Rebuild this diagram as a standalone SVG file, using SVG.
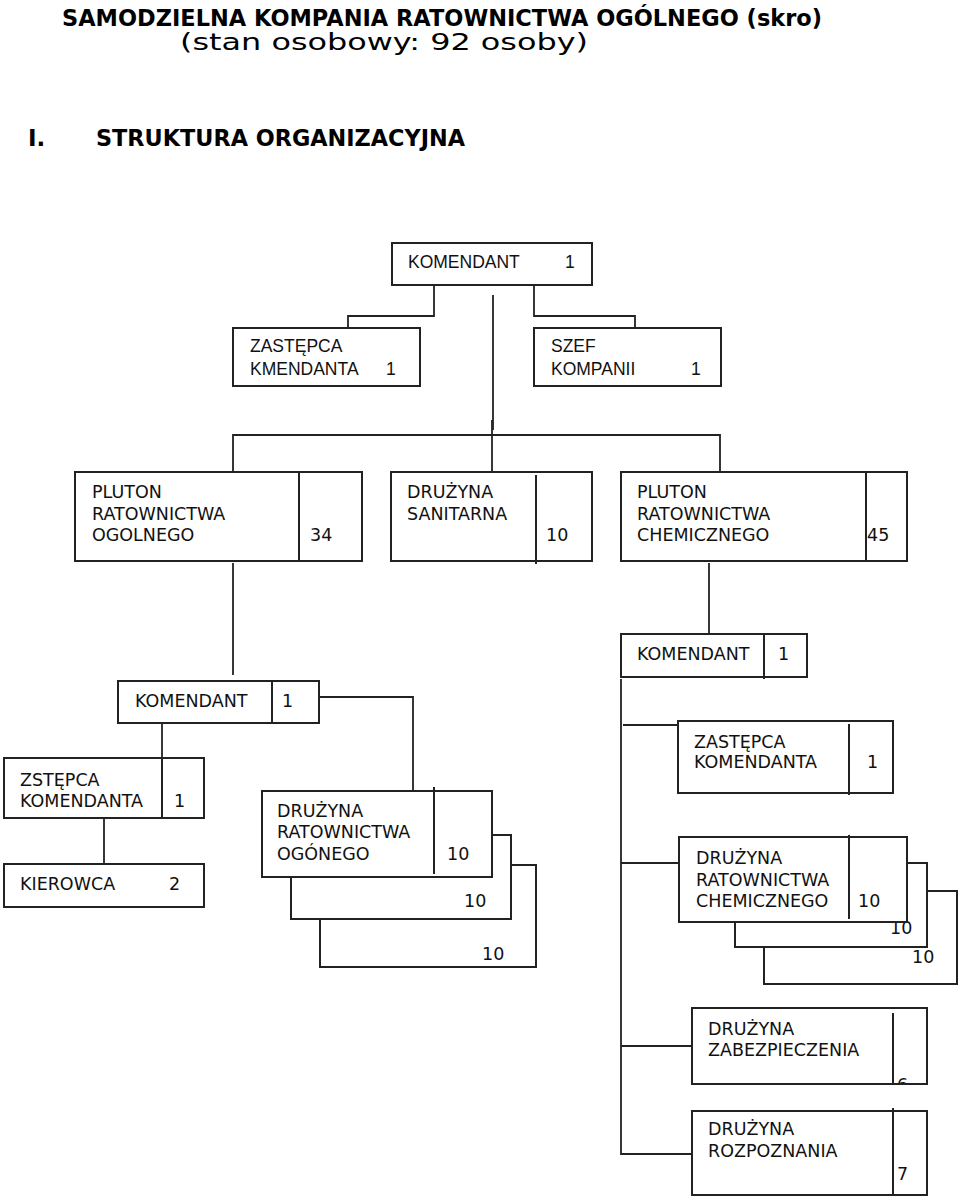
<svg xmlns="http://www.w3.org/2000/svg" width="960" height="1197" viewBox="0 0 960 1197">
<style>
.bx{fill:#fff;stroke:#222;stroke-width:2}
.dv{stroke:#222;stroke-width:2;fill:none}
.cn{stroke:#222;stroke-width:1.8;fill:none}
.a{font-family:"Liberation Sans",Arial,sans-serif;font-size:17.5px;fill:#111}
.v{font-family:"DejaVu Sans",Verdana,sans-serif;font-size:17.5px;fill:#111}
.t{font-family:"DejaVu Sans",Verdana,sans-serif;font-size:23px;fill:#000}
</style>
<defs>
<clipPath id="c6"><rect x="893" y="1060" width="33" height="23"/></clipPath>
</defs>
<rect width="960" height="1197" fill="#fff"/>
<g id="title">
<text class="t" x="62" y="26" font-weight="bold" textLength="760" lengthAdjust="spacingAndGlyphs">SAMODZIELNA KOMPANIA RATOWNICTWA OGÓLNEGO (skro)</text>
<text class="t" x="180" y="50" font-size="24" textLength="408" lengthAdjust="spacingAndGlyphs">(stan osobowy:  92 osoby)</text>
<text class="t" x="28" y="146" font-weight="bold">I.</text>
<text class="t" x="96" y="146" font-weight="bold" textLength="369" lengthAdjust="spacingAndGlyphs">STRUKTURA ORGANIZACYJNA</text>
</g>
<g id="connectors">
<polyline class="cn" points="434,285 434,316 348,316 348,328"/>
<polyline class="cn" points="534,285 534,316 635,316 635,328"/>
<line class="cn" x1="493" y1="295" x2="493" y2="430"/>
<polyline class="cn" points="233,472 233,435 720,435 720,472"/>
<line class="cn" x1="492" y1="420" x2="492" y2="472"/>
<line class="cn" x1="233" y1="563" x2="233" y2="675"/>
<line class="cn" x1="709" y1="563" x2="709" y2="634"/>
<line class="cn" x1="162" y1="723" x2="162" y2="758"/>
<line class="cn" x1="104" y1="818" x2="104" y2="864"/>
<polyline class="cn" points="319,697 413,697 413,790"/>
<polyline class="cn" points="621,679 621,1154 692,1154"/>
<line class="cn" x1="623" y1="725" x2="679" y2="725"/>
<line class="cn" x1="621" y1="863" x2="679" y2="863"/>
<line class="cn" x1="621" y1="1046" x2="692" y2="1046"/>
</g>
<g id="komendant-top">
<rect class="bx" x="392" y="243" width="200" height="42"/>
<text class="a" x="408" y="268">KOMENDANT</text>
<text class="a" x="565" y="268">1</text>
</g>
<g id="zastepca-kmendanta">
<rect class="bx" x="233" y="328" width="187" height="58"/>
<text class="a" x="250" y="352">ZASTĘPCA</text>
<text class="a" x="250" y="375">KMENDANTA</text>
<text class="a" x="386" y="375">1</text>
</g>
<g id="szef-kompanii">
<rect class="bx" x="534" y="328" width="187" height="58"/>
<text class="a" x="551" y="352">SZEF</text>
<text class="a" x="551" y="375">KOMPANII</text>
<text class="a" x="691" y="375">1</text>
</g>
<g id="pluton-ogolnego">
<rect class="bx" x="75" y="472" width="287" height="89"/>
<line class="dv" x1="299" y1="472" x2="299" y2="561"/>
<text class="v" x="92" y="498">PLUTON</text>
<text class="v" x="92" y="520">RATOWNICTWA</text>
<text class="v" x="92" y="541">OGOLNEGO</text>
<text class="v" x="310" y="541">34</text>
</g>
<g id="druzyna-sanitarna">
<rect class="bx" x="391" y="472" width="201" height="89"/>
<line class="dv" x1="536" y1="475" x2="536" y2="564"/>
<text class="v" x="407" y="498">DRUŻYNA</text>
<text class="v" x="407" y="520">SANITARNA</text>
<text class="v" x="546" y="541">10</text>
</g>
<g id="pluton-chemicznego">
<rect class="bx" x="621" y="472" width="286" height="89"/>
<line class="dv" x1="866" y1="472" x2="866" y2="561"/>
<text class="v" x="637" y="498">PLUTON</text>
<text class="v" x="637" y="520">RATOWNICTWA</text>
<text class="v" x="637" y="541">CHEMICZNEGO</text>
<text class="v" x="867" y="541">45</text>
</g>
<g id="komendant-left">
<rect class="bx" x="118" y="681" width="201" height="42"/>
<line class="dv" x1="272" y1="681" x2="272" y2="723"/>
<text class="v" x="135" y="707">KOMENDANT</text>
<text class="v" x="282" y="707">1</text>
</g>
<g id="zstepca-komendanta">
<rect class="bx" x="4" y="758" width="200" height="60"/>
<line class="dv" x1="162" y1="758" x2="162" y2="818"/>
<text class="v" x="20" y="786">ZSTĘPCA</text>
<text class="v" x="20" y="807">KOMENDANTA</text>
<text class="v" x="174" y="807">1</text>
</g>
<g id="kierowca">
<rect class="bx" x="4" y="864" width="200" height="43"/>
<text class="v" x="20" y="890">KIEROWCA</text>
<text class="v" x="169" y="890">2</text>
</g>
<g id="druzyna-ogolnego">
<rect class="bx" x="320" y="865" width="216" height="102"/>
<text class="v" x="482" y="960">10</text>
<rect class="bx" x="291" y="835" width="220" height="84"/>
<text class="v" x="464" y="907">10</text>
<rect class="bx" x="262" y="791" width="230" height="86"/>
<line class="dv" x1="434" y1="787" x2="434" y2="874"/>
<text class="v" x="277" y="817">DRUŻYNA</text>
<text class="v" x="277" y="838">RATOWNICTWA</text>
<text class="v" x="277" y="860">OGÓNEGO</text>
<text class="v" x="447" y="860">10</text>
</g>
<g id="komendant-right">
<rect class="bx" x="621" y="634" width="186" height="43"/>
<line class="dv" x1="764" y1="634" x2="764" y2="679"/>
<text class="v" x="637" y="660">KOMENDANT</text>
<text class="v" x="778" y="660">1</text>
</g>
<g id="zastepca-komendanta-right">
<rect class="bx" x="678" y="721" width="215" height="72"/>
<line class="dv" x1="849" y1="724" x2="849" y2="795"/>
<text class="v" x="694" y="748">ZASTĘPCA</text>
<text class="v" x="694" y="768">KOMENDANTA</text>
<text class="v" x="867" y="768">1</text>
</g>
<g id="druzyna-chemicznego">
<rect class="bx" x="764" y="891" width="193" height="93"/>
<text class="v" x="912" y="963">10</text>
<rect class="bx" x="735" y="863" width="192" height="84"/>
<text class="v" x="890" y="934">10</text>
<rect class="bx" x="679" y="837" width="228" height="85"/>
<line class="dv" x1="849" y1="835" x2="849" y2="919"/>
<text class="v" x="696" y="864">DRUŻYNA</text>
<text class="v" x="696" y="886">RATOWNICTWA</text>
<text class="v" x="696" y="907">CHEMICZNEGO</text>
<text class="v" x="858" y="907">10</text>
</g>
<g id="druzyna-zabezpieczenia">
<rect class="bx" x="692" y="1008" width="235" height="76"/>
<line class="dv" x1="893" y1="1013" x2="893" y2="1084"/>
<text class="v" x="708" y="1035">DRUŻYNA</text>
<text class="v" x="708" y="1056">ZABEZPIECZENIA</text>
<text class="v" x="897" y="1091" clip-path="url(#c6)">6</text>
</g>
<g id="druzyna-rozpoznania">
<rect class="bx" x="692" y="1111" width="235" height="84"/>
<line class="dv" x1="893" y1="1108" x2="893" y2="1195"/>
<text class="v" x="708" y="1135">DRUŻYNA</text>
<text class="v" x="708" y="1157">ROZPOZNANIA</text>
<text class="v" x="897" y="1180">7</text>
</g>
</svg>
